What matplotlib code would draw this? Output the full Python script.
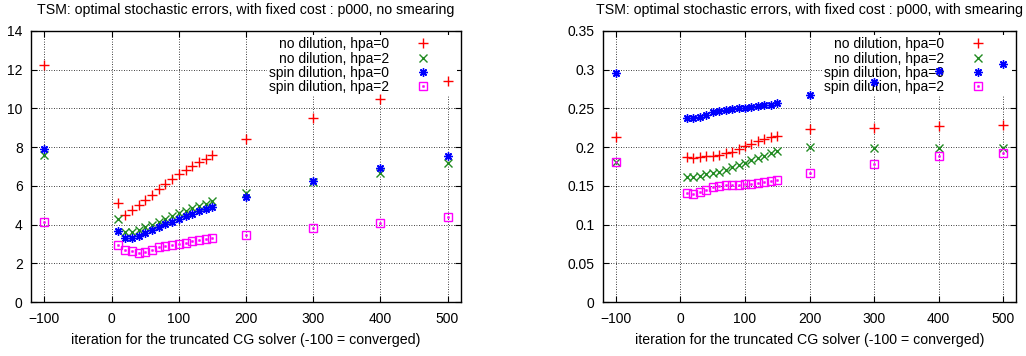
import matplotlib
matplotlib.use("Agg")
import matplotlib.pyplot as plt
import matplotlib.transforms as mtransforms
from matplotlib.legend_handler import HandlerTuple

plt.rcParams['font.family'] = ['Liberation Sans', 'DejaVu Sans']
plt.rcParams['font.size'] = 10

# iteration count of the truncated CG solver (-100 = converged)
iters = [-100, 10, 20, 30, 40, 50, 60, 70, 80, 90, 100, 110, 120, 130, 140, 150,
         200, 300, 400, 500]

labels = ['no dilution, hpa=0', 'no dilution, hpa=2',
          'spin dilution, hpa=0', 'spin dilution, hpa=2']

# no smearing
nodil0_ns = [12.25, 5.1, 4.5, 4.75, 5.0, 5.28, 5.55, 5.85, 6.1, 6.35, 6.6, 6.82,
             7.02, 7.22, 7.4, 7.6, 8.4, 9.52, 10.47, 11.4]
nodil2_ns = [7.57, 4.27, 3.6, 3.62, 3.72, 3.85, 4.0, 4.15, 4.3, 4.45, 4.6, 4.72,
             4.85, 4.97, 5.08, 5.2, 5.65, 6.18, 6.68, 7.18]
spin0_ns = [7.88, 3.65, 3.3, 3.32, 3.4, 3.55, 3.72, 3.88, 4.02, 4.15, 4.28, 4.42,
            4.55, 4.68, 4.8, 4.92, 5.4, 6.25, 6.9, 7.55]
spin2_ns = [4.15, 2.92, 2.7, 2.62, 2.52, 2.57, 2.7, 2.82, 2.88, 2.93, 3.0, 3.07,
            3.13, 3.2, 3.25, 3.3, 3.47, 3.8, 4.08, 4.38]

# with smearing
nodil0_ws = [0.213, 0.187, 0.186, 0.187, 0.188, 0.188, 0.19, 0.192, 0.194, 0.197,
             0.201, 0.204, 0.208, 0.211, 0.213, 0.215, 0.224, 0.225, 0.227, 0.229]
nodil2_ws = [0.181, 0.161, 0.161, 0.163, 0.165, 0.166, 0.168, 0.171, 0.174, 0.177,
             0.18, 0.183, 0.186, 0.189, 0.192, 0.195, 0.2, 0.199, 0.199, 0.199]
spin0_ws = [0.296, 0.238, 0.237, 0.239, 0.242, 0.245, 0.247, 0.248, 0.249, 0.25,
            0.251, 0.252, 0.253, 0.254, 0.255, 0.257, 0.267, 0.284, 0.298, 0.307]
spin2_ws = [0.181, 0.141, 0.14, 0.142, 0.145, 0.148, 0.15, 0.151, 0.151, 0.151,
            0.152, 0.153, 0.154, 0.155, 0.156, 0.158, 0.167, 0.178, 0.189, 0.192]

xticks = [-100, 0, 100, 200, 300, 400, 500]
yticks_ns = [0, 2, 4, 6, 8, 10, 12, 14]
yticks_ws = [0, 0.05, 0.1, 0.15, 0.2, 0.25, 0.3, 0.35]
yticklabels_ws = ['0', '0.05', '0.1', '0.15', '0.2', '0.25', '0.3', '0.35']

titles = ['TSM: optimal stochastic errors, with fixed cost : p000, no smearing',
          'TSM: optimal stochastic errors, with fixed cost : p000, with smearing']
xlabel = 'iteration for the truncated CG solver (-100 = converged)'

W, H = 1026, 356
fig = plt.figure(figsize=(W / 100, H / 100), dpi=100)
ax1 = fig.add_axes([31 / W, (H - 302) / H, 430 / W, 271 / H])
ax2 = fig.add_axes([603 / W, (H - 302) / H, 413 / W, 271 / H])


def panel(ax, series, ylim, yticks, yticklabels, title):
    s0, s1, s2, s3 = series
    h0, = ax.plot(iters, s0, ls='none', marker='+', ms=6.5, mew=1.0, color='#ff0000')
    h1, = ax.plot(iters, s1, ls='none', marker='x', ms=5.5, mew=1.0, color='#228b22')
    h2, = ax.plot(iters, s2, ls='none', marker=(8, 2, 0), ms=6, mew=1.0, color='#0000ff')
    h3, = ax.plot(iters, s3, ls='none', marker='s', ms=6, mew=1.0,
                  mfc='none', color='#ff00ff')
    h3d, = ax.plot(iters, s3, ls='none', marker='s', ms=1.2, mew=0.5, color='#ff00ff')

    ax.set_xlim(-120, 520)
    ax.set_ylim(*ylim)
    ax.set_xticks(xticks)
    ax.set_yticks(yticks)
    ax.set_yticklabels(yticklabels)
    ax.tick_params(direction='in', length=4, width=0.8, top=True, right=True,
                   labelsize=10)
    ax.tick_params(axis='x', pad=7)
    ax.tick_params(axis='y', pad=6)
    ax.set_axisbelow(True)
    ax.grid(True, color='black', linestyle=(0, (1, 2)), linewidth=0.6)
    for sp in ax.spines.values():
        sp.set_linewidth(1.0)

    ax.set_title(title, fontsize=10.2, pad=12)
    ax.set_xlabel(xlabel, fontsize=10.2, labelpad=5)

    # gnuplot style key: labels right aligned, sample point to the right,
    # box cleared of grid lines but drawn under the data
    anchor = mtransforms.offset_copy(ax.transAxes, fig=fig, x=-4, y=-4, units='dots')
    leg = ax.legend([h0, h1, h2, (h3, h3d)], labels, loc='upper right',
                    bbox_to_anchor=(1, 1), bbox_transform=anchor,
                    borderaxespad=0, borderpad=0.15, markerfirst=False,
                    handlelength=4.6, handletextpad=0.15, labelspacing=0.03,
                    fancybox=False, framealpha=1, facecolor='white',
                    edgecolor='none', fontsize=10,
                    handler_map={tuple: HandlerTuple(ndivide=1)})
    leg.set_zorder(1.5)


panel(ax1, [nodil0_ns, nodil2_ns, spin0_ns, spin2_ns], (0, 14),
      yticks_ns, [str(v) for v in yticks_ns], titles[0])
panel(ax2, [nodil0_ws, nodil2_ws, spin0_ws, spin2_ws], (0, 0.35),
      yticks_ws, yticklabels_ws, titles[1])

fig.savefig('out.png', dpi=100)
